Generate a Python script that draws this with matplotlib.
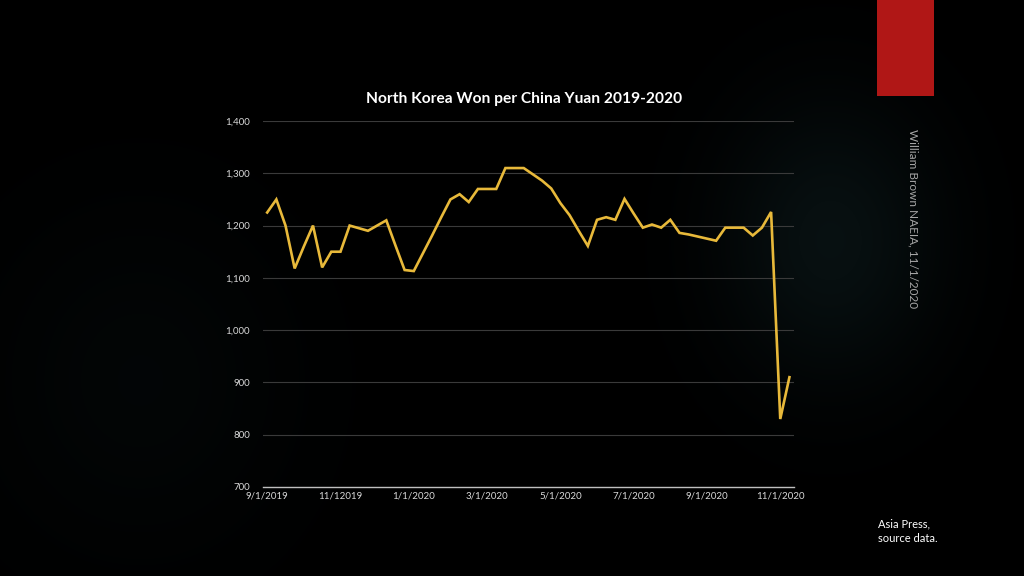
import numpy as np
import matplotlib
matplotlib.use("Agg")
import matplotlib.pyplot as plt
from matplotlib.ticker import FuncFormatter

# ---- data ----
values = [1225, 1250, 1200, 1118, 1160, 1200, 1120, 1150, 1150, 1200,
          1195, 1190, 1200, 1210, 1162, 1115, 1113, 1147, 1181, 1216,
          1250, 1260, 1245, 1270, 1270, 1270, 1310, 1310, 1310, 1298,
          1286, 1271, 1243, 1220, 1190, 1161, 1211, 1216, 1211, 1251,
          1223, 1196, 1202, 1196, 1211, 1186, 1183, 1179, 1175, 1171,
          1196, 1196, 1196, 1181, 1196, 1226, 830, 910]
tick_labels = ["9/1/2019", "11/12019", "1/1/2020", "3/1/2020",
               "5/1/2020", "7/1/2020", "9/1/2020", "11/1/2020"]
title = "North Korea Won per China Yuan 2019-2020"
side_text = "William Brown NAEIA, 11/1/2020"
source_text = "Asia Press,\nsource data."

W, H = 1024, 576
fig = plt.figure(figsize=(W / 100, H / 100), dpi=100, facecolor="black")

# background with subtle glows
bg = fig.add_axes([0, 0, 1, 1])
bg.set_axis_off()
yy, xx = np.mgrid[0:H, 0:W]
g1 = np.exp(-(((xx - 830) / 110) ** 2 + ((yy - 240) / 140) ** 2))
g2 = np.exp(-(((xx - 140) / 160) ** 2 + ((yy - 380) / 180) ** 2))
g = 0.85 * g1 + 0.3 * g2
img = np.zeros((H, W, 3))
img[..., 0] = 0.035 * g
img[..., 1] = 0.075 * g
img[..., 2] = 0.08 * g
bg.imshow(img, extent=[0, W, H, 0], aspect="auto")
bg.set_xlim(0, W)
bg.set_ylim(H, 0)
bg.add_patch(plt.Rectangle((877, 0), 57, 96, color="#B01716", lw=0))

font = "Lato"

ax = fig.add_axes([262.6 / W, 1 - 487 / H, (794 - 262.6) / W, (487 - 121) / H])
ax.set_facecolor("none")
x = np.arange(len(values))
ax.plot(x, values, color="#E8B93A", lw=1.9, solid_joinstyle="miter")
ax.set_xlim(-0.5, len(values) - 0.5)
ax.set_ylim(700, 1400)
ax.set_yticks(np.arange(700, 1401, 100))
ax.yaxis.set_major_formatter(FuncFormatter(lambda v, p: f"{int(v):,}"))
ax.set_xticks(np.arange(0, len(values), 8))
ax.set_xticklabels(tick_labels)
ax.grid(axis="y", color="#3a3a3a", lw=0.8)
ax.set_axisbelow(True)
for s in ["top", "right", "left"]:
    ax.spines[s].set_visible(False)
ax.spines["bottom"].set_color("#bfbfbf")
ax.spines["bottom"].set_linewidth(1.0)
ax.tick_params(length=0, colors="#d9d9d9", labelsize=7)
ax.tick_params(axis="y", pad=9)
ax.tick_params(axis="x", pad=3)
for lbl in ax.get_xticklabels() + ax.get_yticklabels():
    lbl.set_fontfamily(font)

fig.text(524 / W, 1 - 99 / H, title, color="white", fontsize=11.2,
         fontweight="bold", ha="center", va="center", family=font)
fig.text(913 / W, 1 - 219 / H, side_text, color="#a6a6a6", fontsize=8.5,
         rotation=-90, ha="center", va="center", family=font)
fig.text(878 / W, 1 - 531 / H, source_text, color="white", fontsize=8,
         ha="left", va="center", family=font, linespacing=1.45)

fig.savefig("out.png", dpi=100, facecolor="black")
